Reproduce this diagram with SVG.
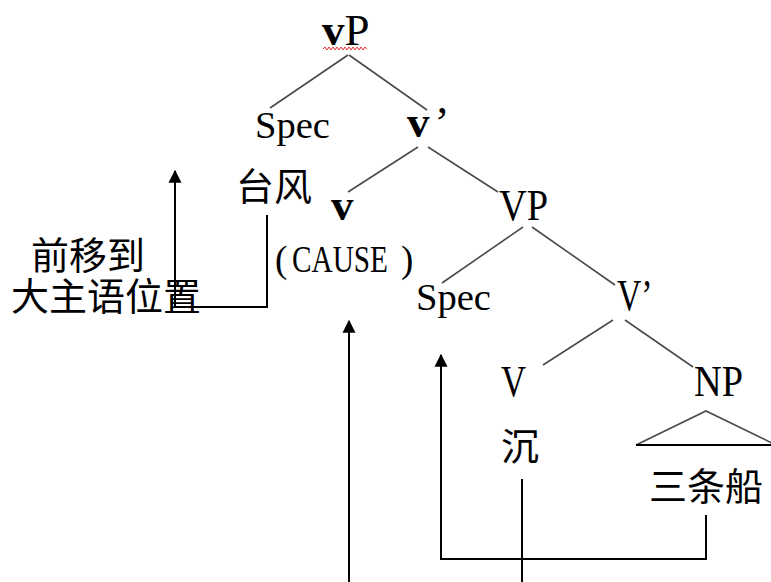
<svg xmlns="http://www.w3.org/2000/svg" width="771" height="582" viewBox="0 0 771 582">
  <style>
    .branch { stroke: #4a4a4a; stroke-width: 1.6; fill: none; }
    .move { stroke: #000; stroke-width: 2; fill: none; }
    .cat { font-family: "Liberation Serif", "Times New Roman", serif; font-size: 45px; fill: #000; }
    .b { font-weight: bold; }
    .lat { font-family: "Liberation Serif", "Times New Roman", serif; font-size: 37px; fill: #000; }
    .cjk { font-family: "Noto Sans CJK SC", "Noto Sans", sans-serif; font-size: 38px; fill: #000; }
  </style>
  <defs>
    <marker id="head" viewBox="0 0 10 10" refX="9" refY="5" markerWidth="13" markerHeight="14" markerUnits="userSpaceOnUse" orient="auto">
      <path d="M0,0 L10,5 L0,10 Z" fill="#000"/>
    </marker>
  </defs>

  <rect width="771" height="582" fill="#fff"/>

  <!-- tree branches -->
  <g id="branches">
    <line class="branch" x1="348" y1="55" x2="270" y2="108"/>
    <line class="branch" x1="349" y1="55" x2="427" y2="110"/>
    <line class="branch" x1="418" y1="147" x2="348" y2="192"/>
    <line class="branch" x1="428" y1="147" x2="498" y2="192"/>
    <line class="branch" x1="523" y1="227" x2="442" y2="283"/>
    <line class="branch" x1="532" y1="227" x2="615" y2="285"/>
    <line class="branch" x1="613" y1="320" x2="543" y2="365"/>
    <line class="branch" x1="625" y1="320" x2="693" y2="367"/>
    <polyline class="branch" points="636,445 706,411 776,445"/>
    <line x1="636" y1="445" x2="771" y2="445" stroke="#000" stroke-width="2"/>
  </g>

  <!-- movement connectors -->
  <g id="connectors">
    <path class="move" d="M267,215 V307 H175 V171" marker-end="url(#head)"/>
    <path class="move" d="M349,582 V321" marker-end="url(#head)"/>
    <path class="move" d="M706,515 V559 H441 V355" marker-end="url(#head)"/>
    <line class="move" x1="522" y1="479" x2="522" y2="582"/>
  </g>

  <g id="vP">
    <text class="cat" x="322" y="45"><tspan class="b">v</tspan>P</text>
    <polyline points="323,49 325,47 327,50 329,47 331,50 333,47 335,50 337,47 339,50 341,47 343,50 345,47 347,50 349,47 351,50 353,47 355,50 357,47 359,50 361,47 363,50 365,47 367,49" fill="none" stroke="#f03030" stroke-width="1"/>
  </g>

  <g id="spec1">
    <text class="lat" x="255" y="138" textLength="75" lengthAdjust="spacingAndGlyphs">Spec</text>
    <text class="cjk" x="236" y="200">台风</text>
  </g>

  <g id="vbar">
    <text class="cat" x="407" y="137"><tspan class="b">v</tspan><tspan dx="5">’</tspan></text>
  </g>

  <g id="v">
    <text class="cat b" x="331" y="220">v</text>
    <text class="lat" x="275" y="272">(</text>
    <text class="lat" x="292" y="272" textLength="96" lengthAdjust="spacingAndGlyphs">CAUSE</text>
    <text class="lat" x="401" y="272">)</text>
  </g>

  <g id="VP">
    <text class="cat" x="499" y="220" textLength="49" lengthAdjust="spacingAndGlyphs">VP</text>
  </g>

  <g id="spec2">
    <text class="lat" x="416" y="310" textLength="75" lengthAdjust="spacingAndGlyphs">Spec</text>
  </g>

  <g id="Vbar">
    <text class="cat" transform="translate(617,310) scale(0.75,1)">V’</text>
  </g>

  <g id="V">
    <text class="cat" x="501" y="396" textLength="25" lengthAdjust="spacingAndGlyphs">V</text>
    <text class="cjk" x="501" y="460">沉</text>
  </g>

  <g id="NP">
    <text class="cat" x="694" y="396" textLength="49" lengthAdjust="spacingAndGlyphs">NP</text>
    <text class="cjk" x="649" y="500">三条船</text>
  </g>

  <g id="note">
    <text class="cjk" x="31" y="269">前移到</text>
    <text class="cjk" x="11" y="310">大主语位置</text>
  </g>
</svg>
